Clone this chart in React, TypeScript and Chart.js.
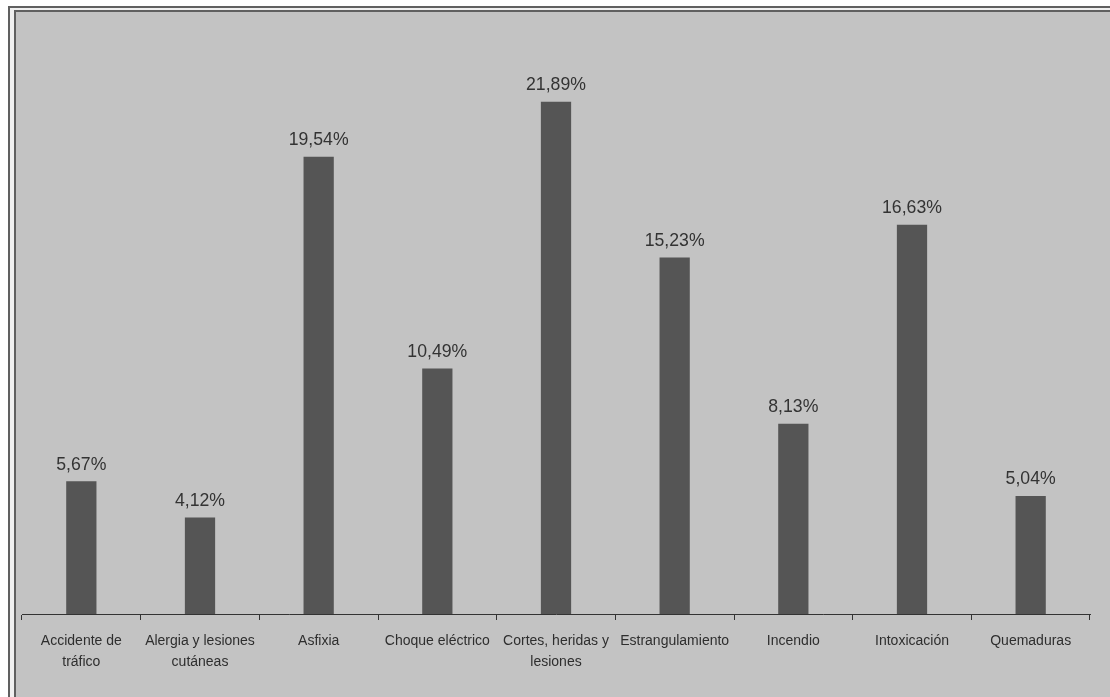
import React, { useEffect, useRef } from "react";
import { Chart, registerables } from "chart.js";

Chart.register(...registerables);

const categories: (string | string[])[] = [
  ["Accidente de", "tráfico"],
  ["Alergia y lesiones", "cutáneas"],
  "Asfixia",
  "Choque eléctrico",
  ["Cortes, heridas y", "lesiones"],
  "Estrangulamiento",
  "Incendio",
  "Intoxicación",
  "Quemaduras",
];

const values: number[] = [5.67, 4.12, 19.54, 10.49, 21.89, 15.23, 8.13, 16.63, 5.04];

const valueLabels: string[] = ["5,67%", "4,12%", "19,54%", "10,49%", "21,89%", "15,23%", "8,13%", "16,63%", "5,04%"];

const FONT = "'Liberation Sans', Arial, sans-serif";

const valueLabelPlugin = {
  id: "valueLabels",
  afterDatasetsDraw(chart: any) {
    const ctx = chart.ctx;
    const meta = chart.getDatasetMeta(0);
    meta.data.forEach((bar: any, i: number) => {
      ctx.save();
      ctx.font = `19px ${FONT}`;
      ctx.fillStyle = "#333333";
      ctx.textAlign = "center";
      ctx.textBaseline = "middle";
      ctx.translate(bar.x, bar.y - 17);
      ctx.scale(0.93, 1);
      ctx.fillText(valueLabels[i], 0, 0);
      ctx.restore();
    });
  },
};

export default function App() {
  const ref = useRef<HTMLCanvasElement>(null);
  useEffect(() => {
    document.body.style.overflow = "hidden";
    const chart = new Chart(ref.current!, {
      type: "bar",
      data: {
        labels: categories,
        datasets: [
          {
            data: values,
            backgroundColor: "#555555",
            borderWidth: 0,
            barPercentage: 0.255,
            categoryPercentage: 1,
          },
        ],
      },
      options: {
        animation: false,
        responsive: false,
        maintainAspectRatio: false,
        layout: { padding: { left: 22, right: 20, top: 29, bottom: 0 } },
        plugins: {
          legend: { display: false },
          tooltip: { enabled: false },
        },
        scales: {
          x: {
            offset: true,
            afterFit: (scale: any) => {
              scale.height = 83;
            },
            grid: {
              offset: true,
              drawOnChartArea: false,
              drawTicks: true,
              tickLength: 6,
              color: "#333333",
              lineWidth: 1,
            },
            border: { display: true, color: "#333333", width: 1 },
            ticks: {
              color: "#2e2e2e",
              font: { family: FONT, size: 14, lineHeight: 1.55 },
              padding: 10,
              maxRotation: 0,
              autoSkip: false,
            },
          },
          y: {
            display: false,
            min: 0,
            max: 25,
          },
        },
      },
      plugins: [valueLabelPlugin],
    });
    return () => chart.destroy();
  }, []);

  return (
    <div>
      <div
        style={{
          position: "fixed",
          left: 8,
          top: 6,
          right: -10,
          bottom: -10,
          background: "#f0f0f0",
          borderTop: "2px solid #606060",
          borderLeft: "2px solid #606060",
          paddingTop: 2,
          paddingLeft: 4,
          boxSizing: "border-box",
        }}
      >
        <div
          style={{
            width: "100%",
            height: "100%",
            background: "#c3c3c3",
            borderTop: "2px solid #606060",
            borderLeft: "2px solid #606060",
            boxSizing: "border-box",
          }}
        />
      </div>
      <canvas
        ref={ref}
        width={1110}
        height={697}
        style={{ position: "fixed", left: 0, top: 0, width: 1110, height: 697 }}
      />
    </div>
  );
}
